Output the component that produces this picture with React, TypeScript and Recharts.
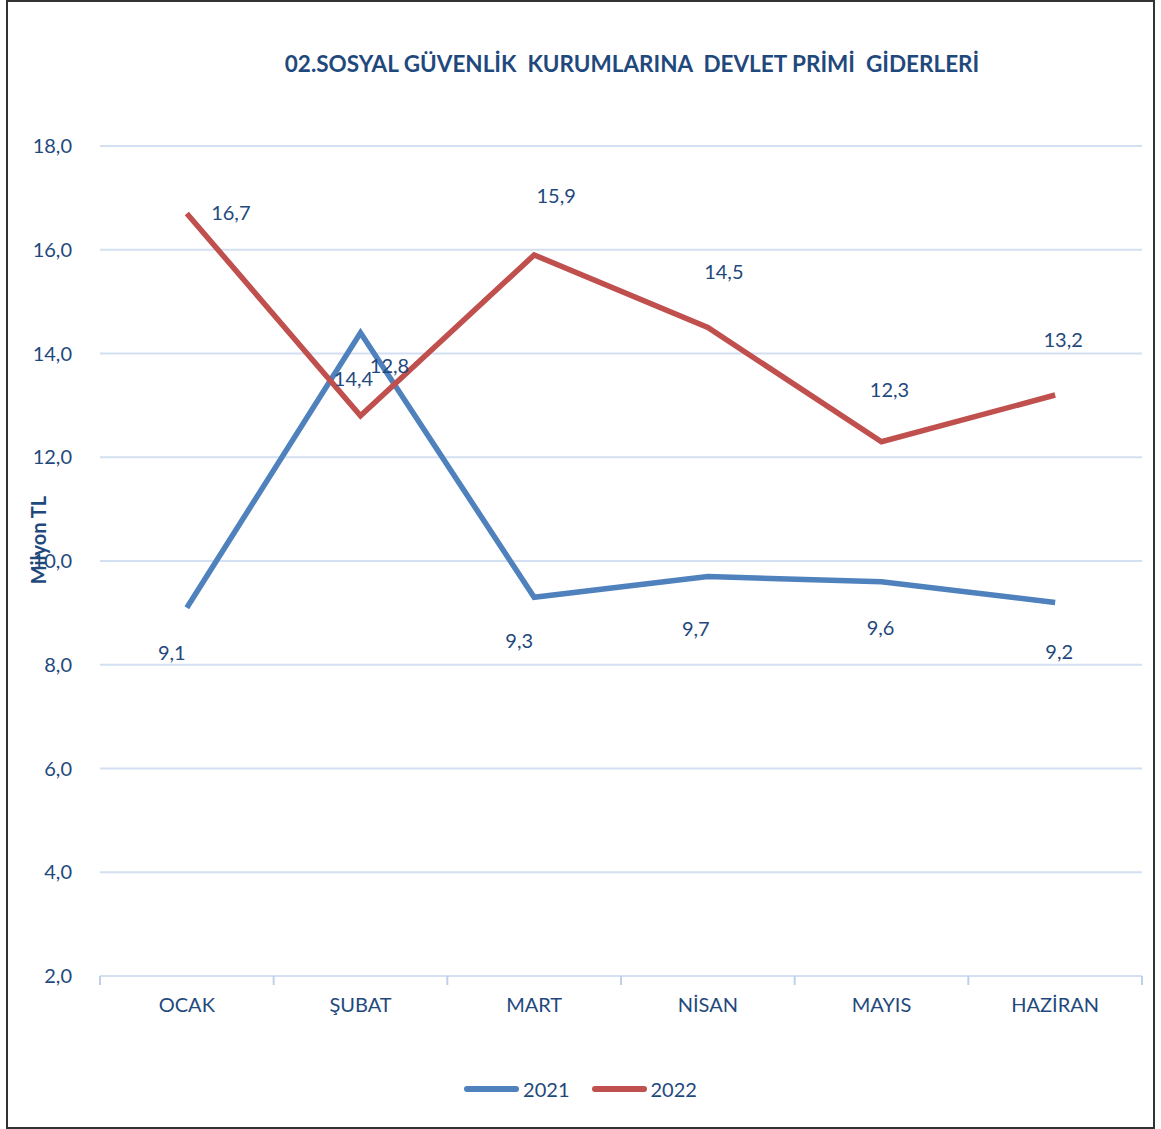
import React from "react";
import {
  LineChart,
  Line,
  XAxis,
  YAxis,
  CartesianGrid,
  LabelList
} from "recharts";

const months = ["OCAK", "ŞUBAT", "MART", "NİSAN", "MAYIS", "HAZİRAN"];
const values2021 = [9.1, 14.4, 9.3, 9.7, 9.6, 9.2];
const values2022 = [16.7, 12.8, 15.9, 14.5, 12.3, 13.2];
const yTicks = [2, 4, 6, 8, 10, 12, 14, 16, 18];

// label nudges, in px, copied from where Excel put them
const off2021 = [[-15, 44], [-7, 45], [-15, 43], [-12, 51], [-1, 45], [4, 48]];
const off2022 = [[44, -1], [29, -51], [22, -60], [16, -57], [8, -53], [8, -56]];

const data = months.map((m, i) => ({
  month: m,
  pos: i + 0.5,
  y2021: values2021[i],
  y2022: values2022[i]
}));

const TEXT = "#1F497D";
const GRID = "#D3E0F1";
const TICK = "#BFD0EA";
const BLUE = "#4F81BD";
const RED = "#C0504D";
const FONT = "Lato, 'Open Sans', sans-serif";

const fmt = (v: number) => v.toFixed(1).replace(".", ",");

const makeLabel = (offsets: number[][]) => (props: any) => {
  const { x, y, value, index } = props;
  const [dx, dy] = offsets[index] || [0, 0];
  return (
    <text
      x={x + dx}
      y={y + dy}
      textAnchor="middle"
      dominantBaseline="central"
      fill={TEXT}
      fontSize={20}
      fontFamily={FONT}
    >
      {fmt(value)}
    </text>
  );
};

// month names sit in the middle of each band, boundary ticks come from the other axis
const MonthTick = (props: any) => {
  const { x, y, payload } = props;
  return (
    <text x={x} y={y + 18} textAnchor="middle" fill={TEXT} fontSize={20} fontFamily={FONT}>
      {months[Math.round(payload.value - 0.5)]}
    </text>
  );
};

const BoundTick = (props: any) => {
  const { x, y } = props;
  return <line x1={x} x2={x} y1={y - 9} y2={y} stroke={TICK} strokeWidth={2} />;
};

const LegendBox = () => (
  <div style={{ display: "flex", justifyContent: "center", alignItems: "center", fontFamily: FONT, fontSize: 20, color: TEXT }}>
    <span style={{ display: "inline-block", width: 55, height: 6, borderRadius: 3, background: BLUE, marginRight: 4 }} />
    <span>2021</span>
    <span style={{ display: "inline-block", width: 55, height: 6, borderRadius: 3, background: RED, marginLeft: 22, marginRight: 4 }} />
    <span>2022</span>
  </div>
);

export default function App() {
  return (
    <div style={{ position: "absolute", left: 0, top: 0, width: 1161, height: 1129, background: "#fff" }}>
      <div
        style={{
          position: "absolute",
          left: 6,
          top: 0,
          width: 1145,
          height: 1125,
          border: "2px solid #333"
        }}
      />
      <div
        style={{
          position: "absolute",
          left: 0,
          top: 50,
          width: 1264,
          textAlign: "center",
          whiteSpace: "pre",
          fontFamily: FONT,
          fontWeight: 700,
          fontSize: 22.5,
          color: TEXT
        }}
      >
        {"02.SOSYAL GÜVENLİK  KURUMLARINA  DEVLET PRİMİ  GİDERLERİ"}
      </div>
      <div
        style={{
          position: "absolute",
          left: 38,
          top: 540,
          transform: "translate(-50%, -50%) rotate(-90deg)",
          whiteSpace: "nowrap",
          fontFamily: FONT,
          fontWeight: 700,
          fontSize: 20,
          color: TEXT
        }}
      >
        Milyon TL
      </div>
      <div style={{ position: "absolute", left: 0, top: 1077, width: 1161 }}>
        <LegendBox />
      </div>
      <div style={{ position: "absolute", left: 0, top: 0 }}>
        <LineChart
          width={1161}
          height={1129}
          data={data}
          margin={{ top: 146, right: 19, bottom: 113, left: 30 }}
        >
          <CartesianGrid horizontal vertical={false} stroke={GRID} strokeWidth={2} />
          <XAxis
            xAxisId="a"
            type="number"
            dataKey="pos"
            domain={[0, 6]}
            ticks={[0, 1, 2, 3, 4, 5, 6]}
            tick={<BoundTick />}
            tickLine={false}
            tickMargin={0}
            tickSize={9}
            axisLine={{ stroke: GRID, strokeWidth: 2 }}
            height={10}
          />
          <XAxis
            xAxisId="b"
            type="number"
            dataKey="pos"
            domain={[0, 6]}
            ticks={[0.5, 1.5, 2.5, 3.5, 4.5, 5.5]}
            tickLine={false}
            axisLine={false}
            tick={<MonthTick />}
            height={30}
          />
          <YAxis
            domain={[2, 18]}
            ticks={yTicks}
            tickFormatter={fmt}
            axisLine={false}
            tickLine={false}
            width={70}
            tickMargin={22}
            tick={{ fill: TEXT, fontSize: 20, fontFamily: FONT }}
          />
          <Line
            xAxisId="b"
            type="linear"
            dataKey="y2021"
            name="2021"
            stroke={BLUE}
            strokeWidth={5.5}
            dot={false}
            isAnimationActive={false}
          >
            <LabelList dataKey="y2021" content={makeLabel(off2021)} />
          </Line>
          <Line
            xAxisId="b"
            type="linear"
            dataKey="y2022"
            name="2022"
            stroke={RED}
            strokeWidth={5.5}
            dot={false}
            isAnimationActive={false}
          >
            <LabelList dataKey="y2022" content={makeLabel(off2022)} />
          </Line>
        </LineChart>
      </div>
    </div>
  );
}
